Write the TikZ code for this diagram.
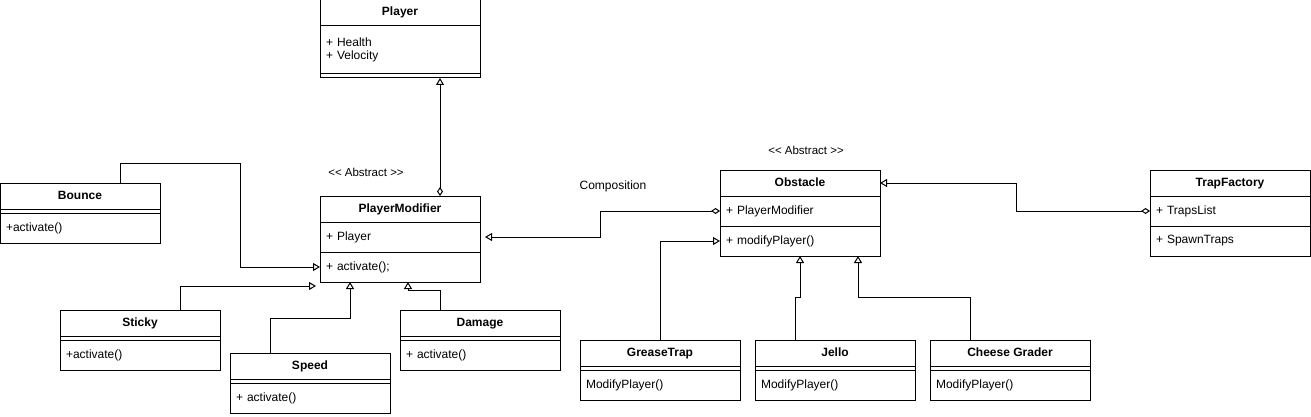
\documentclass[tikz,border=0pt]{standalone}
\usepackage{fontspec}
\setmainfont{Liberation Sans}
\usetikzlibrary{positioning,arrows.meta}

\begin{document}
\begin{tikzpicture}[x=1pt,y=-1pt,line width=1pt,
  every node/.style={font=\fontsize{12}{13}\selectfont},
  head/.style={draw,anchor=north west,minimum width=160pt,minimum height=26pt,text height=9pt,text depth=3pt,inner sep=0pt,outer sep=0pt,font=\fontsize{12}{13}\selectfont\bfseries},
  body/.style={draw,minimum width=160pt,minimum height=30pt,text width=148pt,inner xsep=6pt,inner ysep=0pt,outer sep=0pt,align=left},
  gap/.style={draw,minimum width=160pt,minimum height=4pt,inner sep=0pt,outer sep=0pt},
  stereo/.style={font=\fontsize{11.5}{13}\selectfont},
  extends/.style={-{Triangle[open,length=7pt,width=8pt]}},
  composition/.style={{Diamond[open,length=9pt,width=6pt]}-{Triangle[open,length=7pt,width=8pt]}}]
\useasboundingbox (0,0) rectangle (1311,417);

% Player
\node[head] (player) at (320,0) {Player};
\node[body,minimum height=48pt,below=0pt of player] (player-attr) {+ Health\\+ Velocity};
\node[gap,below=0pt of player-attr] (player-ops) {};

% PlayerModifier
\node[stereo] (pm-abstract) at (366,172) {<{}< Abstract >{}>};
\node[head] (pm) at (320,196) {PlayerModifier};
\node[body,below=0pt of pm] (pm-attr) {+ Player};
\node[body,below=0pt of pm-attr] (pm-ops) {+ activate();};

% modifiers
\node[head] (bounce) at (0,183) {Bounce};
\node[gap,below=0pt of bounce] (bounce-attr) {};
\node[body,below=0pt of bounce-attr] (bounce-ops) {+activate()};

\node[head] (sticky) at (60,310) {Sticky};
\node[gap,below=0pt of sticky] (sticky-attr) {};
\node[body,below=0pt of sticky-attr] (sticky-ops) {+activate()};

\node[head] (speed) at (230,353) {Speed};
\node[gap,below=0pt of speed] (speed-attr) {};
\node[body,below=0pt of speed-attr] (speed-ops) {+ activate()};

\node[head] (damage) at (400,310) {Damage};
\node[gap,below=0pt of damage] (damage-attr) {};
\node[body,below=0pt of damage-attr] (damage-ops) {+ activate()};

% Obstacle
\node (composition) at (613,186) {Composition};
\node[stereo] (obs-abstract) at (806,150) {<{}< Abstract >{}>};
\node[head] (obs) at (720,170) {Obstacle};
\node[body,below=0pt of obs] (obs-attr) {+ PlayerModifier};
\node[body,below=0pt of obs-attr] (obs-ops) {+ modifyPlayer()};

% TrapFactory
\node[head] (tf) at (1150,170) {TrapFactory};
\node[body,below=0pt of tf] (tf-attr) {+ TrapsList};
\node[body,below=0pt of tf-attr] (tf-ops) {+ SpawnTraps};

% traps
\node[head] (grease) at (580,340) {GreaseTrap};
\node[gap,below=0pt of grease] (grease-attr) {};
\node[body,below=0pt of grease-attr] (grease-ops) {ModifyPlayer()};

\node[head] (jello) at (755,340) {Jello};
\node[gap,below=0pt of jello] (jello-attr) {};
\node[body,below=0pt of jello-attr] (jello-ops) {ModifyPlayer()};

\node[head] (cheese) at (930,340) {Cheese Grader};
\node[gap,below=0pt of cheese] (cheese-attr) {};
\node[body,below=0pt of cheese-attr] (cheese-ops) {ModifyPlayer()};

% connectors
\draw[composition] ([xshift=40pt]pm.north) -- ([xshift=40pt]player-ops.south);
\draw[extends] ([xshift=40pt]bounce.north) -- ++(0,-20) -| ++(120,0) |- (pm-ops.west);
\draw[extends] ([xshift=40pt]sticky.north) |- ([shift={(-4pt,-4pt)}]pm-ops.south west);
\draw[extends] ([xshift=-40pt]speed.north) -- ++(0,-35) -| ([xshift=-50pt]pm-ops.south);
\draw[extends] ([xshift=-40pt]damage.north) -- ++(0,-20) -| ([xshift=8pt]pm-ops.south);
\draw[composition] (obs-attr.west) -- ++(-120,0) |- ([xshift=5pt]pm-attr.east);
\draw[composition] (tf-attr.west) -- ++(-134,0) |- (obs.east);
\draw[extends] (grease.north) |- (obs-ops.west);
\draw[extends] ([xshift=-40pt]jello.north) -- ++(0,-43) -| (obs-ops.south);
\draw[extends] ([xshift=-40pt]cheese.north) -- ++(0,-43) -| ([xshift=58pt]obs-ops.south);
\end{tikzpicture}
\end{document}
